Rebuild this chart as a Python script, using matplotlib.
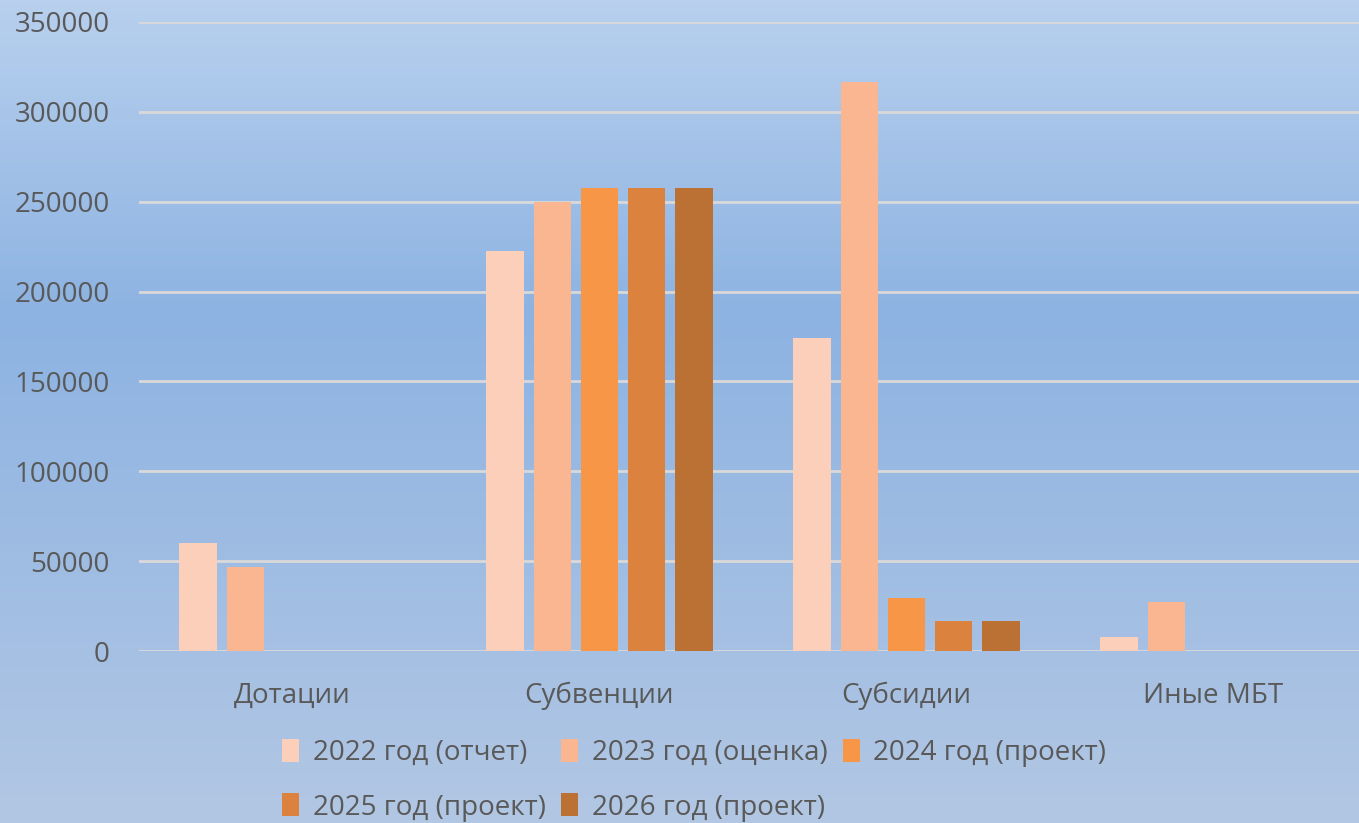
import numpy as np
import matplotlib
matplotlib.use('Agg')
import matplotlib.pyplot as plt
from matplotlib.colors import LinearSegmentedColormap

plt.rcParams['font.family'] = ['Open Sans', 'DejaVu Sans']

# данные
categories = ['Дотации', 'Субвенции', 'Субсидии', 'Иные МБТ']
series_names = ['2022 год (отчет)', '2023 год (оценка)', '2024 год (проект)',
                '2025 год (проект)', '2026 год (проект)']
v2022 = [60000, 222500, 174200, 7600]
v2023 = [46900, 249700, 316600, 27300]
v2024 = [0, 257800, 29700, 0]
v2025 = [0, 257400, 16700, 0]
v2026 = [0, 257400, 16700, 0]
series = [v2022, v2023, v2024, v2025, v2026]
colors = ['#fbcfb9', '#f9b690', '#f79646', '#db833e', '#ba7133']
yticks = [0, 50000, 100000, 150000, 200000, 250000, 300000, 350000]

text_color = '#595959'

fig = plt.figure(figsize=(13.59, 8.23), dpi=100)

# фон с градиентом
bg = fig.add_axes([0, 0, 1, 1], zorder=0)
grad = LinearSegmentedColormap.from_list(
    'bg', [(0.0, '#b8d0ee'), (0.38, '#8db3e2'), (1.0, '#b2c7e4')])
bg.imshow(np.linspace(0, 1, 256).reshape(-1, 1), aspect='auto', cmap=grad,
          extent=[0, 1, 0, 1])
bg.axis('off')

# область графика чуть выходит за правый край, как в оригинале
ax = fig.add_axes([139 / 1359, 172 / 823, 1228 / 1359, (651 - 22) / 823], zorder=1)
ax.set_facecolor('none')

x = np.arange(len(categories))
pitch = 0.154
width = 0.121
for i, (vals, c, name) in enumerate(zip(series, colors, series_names)):
    ax.bar(x + (i - 2) * pitch, vals, width, color=c, label=name, zorder=3)

ax.set_xlim(-0.5, 3.5)
ax.set_ylim(0, 350000)
ax.set_yticks(yticks)
ax.set_yticklabels([str(t) for t in yticks])
ax.set_xticks(x)
ax.set_xticklabels(categories)
ax.grid(axis='y', color='#d9d9d9', linewidth=2, zorder=1)
for s in ax.spines.values():
    s.set_visible(False)
ax.tick_params(axis='both', length=0, labelsize=20, labelcolor=text_color)
ax.tick_params(axis='x', pad=22)
ax.tick_params(axis='y', pad=21)

# легенда: порядок для заполнения по строкам
h, l = ax.get_legend_handles_labels()
order = [0, 3, 1, 4, 2]
fig.legend([h[k] for k in order], [l[k] for k in order], ncol=3,
           loc='center', bbox_to_anchor=(0.511, 0.052), frameon=False,
           fontsize=20, labelcolor=text_color, handlelength=0.6,
           handleheight=0.9, handletextpad=0.5, columnspacing=0.55,
           labelspacing=0.95)

fig.savefig('out.png', dpi=100)
